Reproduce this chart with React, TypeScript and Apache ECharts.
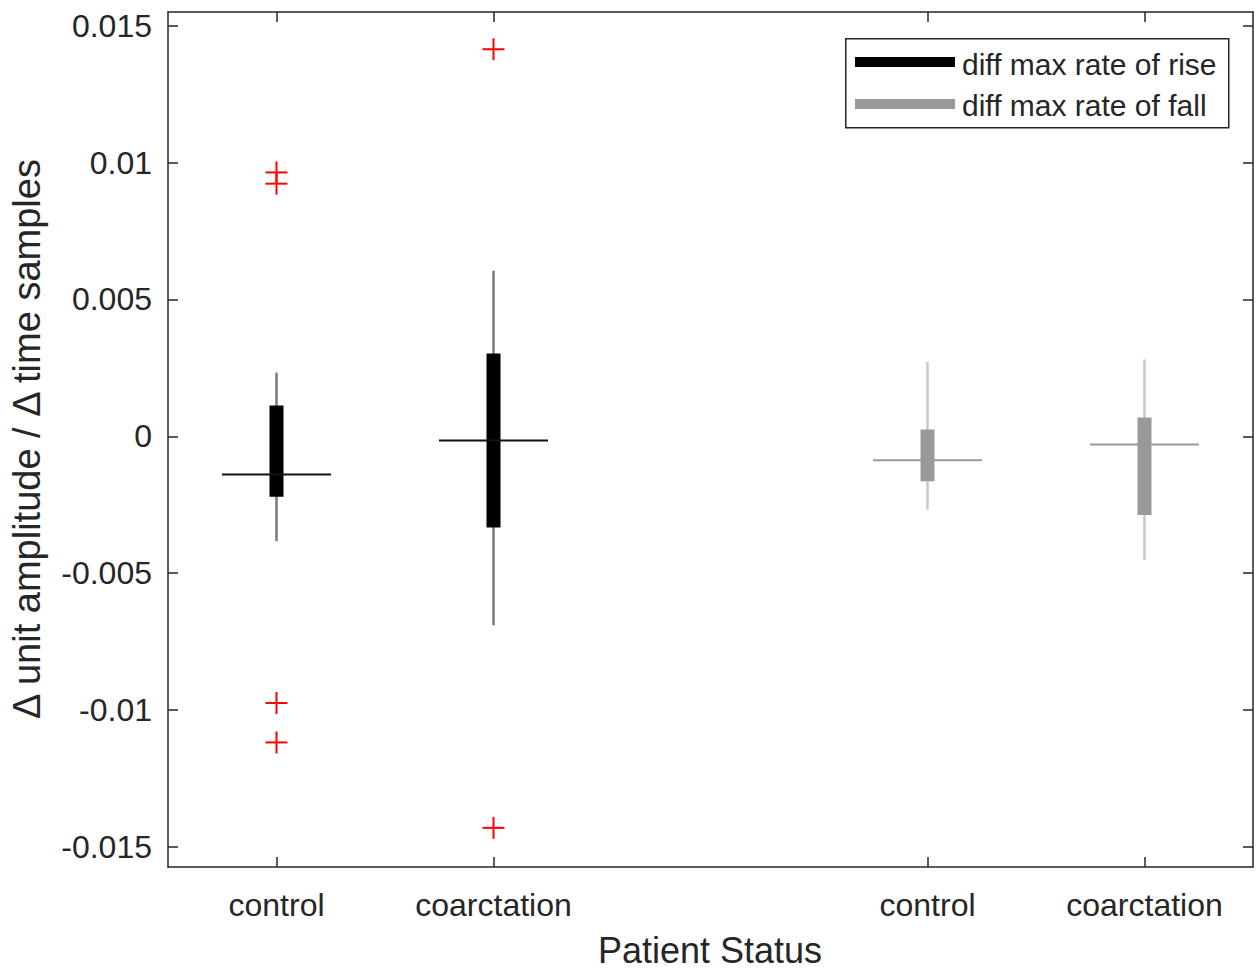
import React, { useEffect, useRef } from 'react';
import * as echarts from 'echarts';

// ---- data ----
const categories = ['control', 'coarctation', 'control', 'coarctation'];
const positions = [0.5, 1.5, 3.5, 4.5];
const groupOfBox = [0, 0, 1, 1];
const whiskerLow = [-0.00383, -0.0069, -0.00267, -0.00452];
const q1 = [-0.00221, -0.00333, -0.00164, -0.00287];
const median = [-0.00139, -0.00015, -0.00087, -0.0003];
const q3 = [0.00113, 0.00303, 0.00025, 0.00069];
const whiskerHigh = [0.00233, 0.00605, 0.00272, 0.00281];
const outlierPos = [0.5, 0.5, 0.5, 0.5, 1.5, 1.5];
const outlierValues = [0.00964, 0.00923, -0.00974, -0.01118, 0.01414, -0.0143];
const yTicks = [-0.015, -0.01, -0.005, 0, 0.005, 0.01, 0.015];
const legendLabels = ['diff max rate of rise', 'diff max rate of fall'];
const xTitle = 'Patient Status';
const yTitle = '\u0394 unit amplitude / \u0394 time samples';

const FONT = '"Liberation Sans", Arial, Helvetica, sans-serif';
const TXT = '#262626';
const AX = '#262626';
const boxColors = ['#000000', '#999999'];
const whiskerColors = ['#7a7a7a', '#c8c8c8'];
const medianColors = ['#111111', '#9a9a9a'];

export default function App() {
  const ref = useRef<HTMLDivElement>(null);
  useEffect(() => {
    if (!ref.current) return;
    const chart = echarts.init(ref.current, null, { renderer: 'svg' });

    const boxData = (g: number) =>
      positions
        .map((p, i) => ({ i, row: [p, whiskerLow[i], q1[i], median[i], q3[i], whiskerHigh[i]] }))
        .filter((d) => groupOfBox[d.i] === g)
        .map((d) => d.row);

    const boxRender = (g: number) => (params: any, api: any) => {
      const x = api.value(0);
      const lo = api.coord([x, api.value(1)]);
      const b1 = api.coord([x, api.value(2)]);
      const md = api.coord([x, api.value(3)]);
      const b3 = api.coord([x, api.value(4)]);
      const hi = api.coord([x, api.value(5)]);
      return {
        type: 'group',
        children: [
          {
            type: 'line',
            shape: { x1: lo[0], y1: lo[1], x2: hi[0], y2: hi[1] },
            style: { stroke: whiskerColors[g], lineWidth: 2.5 },
          },
          {
            type: 'rect',
            shape: { x: b3[0] - 7, y: b3[1], width: 14, height: b1[1] - b3[1] },
            style: { fill: boxColors[g] },
          },
          {
            type: 'line',
            shape: { x1: md[0] - 54.5, y1: md[1], x2: md[0] + 54.5, y2: md[1] },
            style: { stroke: medianColors[g], lineWidth: 2 },
          },
        ],
      };
    };

    const fmtY = (v: number) => {
      const s = parseFloat(v.toFixed(4)).toString();
      return s === '-0' ? '0' : s;
    };

    const option: any = {
      animation: false,
      backgroundColor: '#ffffff',
      grid: { left: 168, right: 4, top: 12, bottom: 106, containLabel: false },
      xAxis: [
        {
          type: 'value',
          min: 0,
          max: 5,
          position: 'bottom',
          axisLine: { show: true, onZero: false, lineStyle: { color: AX, width: 1.5 } },
          axisTick: { show: true, inside: true, length: 10, customValues: positions, lineStyle: { color: AX, width: 1.5 } },
          axisLabel: {
            show: true,
            customValues: positions,
            margin: 22,
            color: TXT,
            fontFamily: FONT,
            fontSize: 32,
            formatter: (v: number) => {
              const i = positions.findIndex((p) => Math.abs(p - v) < 1e-6);
              return i >= 0 ? categories[i] : '';
            },
          },
          splitLine: { show: false },
        },
        {
          type: 'value',
          min: 0,
          max: 5,
          position: 'top',
          axisLine: { show: true, onZero: false, lineStyle: { color: AX, width: 1.5 } },
          axisTick: { show: true, inside: true, length: 10, customValues: positions, lineStyle: { color: AX, width: 1.5 } },
          axisLabel: { show: false },
          splitLine: { show: false },
        },
      ],
      yAxis: [
        {
          type: 'value',
          min: -0.01573,
          max: 0.0155,
          position: 'left',
          axisLine: { show: true, onZero: false, lineStyle: { color: AX, width: 1.5 } },
          axisTick: { show: true, inside: true, length: 10, customValues: yTicks, lineStyle: { color: AX, width: 1.5 } },
          axisLabel: {
            show: true,
            customValues: yTicks,
            margin: 16,
            color: TXT,
            fontFamily: FONT,
            fontSize: 32,
            formatter: fmtY,
          },
          splitLine: { show: false },
        },
        {
          type: 'value',
          min: -0.01573,
          max: 0.0155,
          position: 'right',
          axisLine: { show: true, onZero: false, lineStyle: { color: AX, width: 1.5 } },
          axisTick: { show: true, inside: true, length: 10, customValues: yTicks, lineStyle: { color: AX, width: 1.5 } },
          axisLabel: { show: false },
          splitLine: { show: false },
        },
      ],
      series: [
        {
          name: legendLabels[0],
          type: 'custom',
          xAxisIndex: 0,
          yAxisIndex: 0,
          data: boxData(0),
          renderItem: boxRender(0),
          silent: true,
        },
        {
          name: legendLabels[1],
          type: 'custom',
          xAxisIndex: 0,
          yAxisIndex: 0,
          data: boxData(1),
          renderItem: boxRender(1),
          silent: true,
        },
        {
          name: 'outliers',
          type: 'custom',
          xAxisIndex: 0,
          yAxisIndex: 0,
          data: outlierPos.map((p, i) => [p, outlierValues[i]]),
          renderItem: (params: any, api: any) => {
            const c = api.coord([api.value(0), api.value(1)]);
            const h = 11;
            return {
              type: 'group',
              children: [
                { type: 'line', shape: { x1: c[0] - h, y1: c[1], x2: c[0] + h, y2: c[1] }, style: { stroke: '#ff0000', lineWidth: 2 } },
                { type: 'line', shape: { x1: c[0], y1: c[1] - h, x2: c[0], y2: c[1] + h }, style: { stroke: '#ff0000', lineWidth: 2 } },
              ],
            };
          },
          silent: true,
        },
      ],
      graphic: [
        {
          type: 'rect',
          left: 845,
          top: 38,
          shape: { width: 383, height: 89 },
          style: { fill: '#ffffff', stroke: '#262626', lineWidth: 1.5 },
          z: 100,
        },
        {
          type: 'line',
          shape: { x1: 855, y1: 62, x2: 955, y2: 62 },
          style: { stroke: boxColors[0], lineWidth: 10 },
          z: 101,
        },
        {
          type: 'line',
          shape: { x1: 855, y1: 104, x2: 955, y2: 104 },
          style: { stroke: boxColors[1], lineWidth: 10 },
          z: 101,
        },
        {
          type: 'text',
          x: 962,
          y: 64,
          style: { text: legendLabels[0], fill: TXT, font: `30px ${FONT}`, textVerticalAlign: 'middle', textAlign: 'left' },
          z: 101,
        },
        {
          type: 'text',
          x: 962,
          y: 105,
          style: { text: legendLabels[1], fill: TXT, font: `30px ${FONT}`, textVerticalAlign: 'middle', textAlign: 'left' },
          z: 101,
        },
        {
          type: 'text',
          x: 710,
          y: 950,
          style: { text: xTitle, fill: TXT, font: `36px ${FONT}`, textVerticalAlign: 'middle', textAlign: 'center' },
        },
        {
          type: 'text',
          x: 27,
          y: 439,
          rotation: Math.PI / 2,
          style: { text: yTitle, fill: TXT, font: `38px ${FONT}`, textVerticalAlign: 'middle', textAlign: 'center' },
        },
      ],
    };
    chart.setOption(option);
    return () => chart.dispose();
  }, []);
  return (
    <div
      ref={ref}
      style={{ position: 'absolute', left: 0, top: 0, width: 1257, height: 973, background: '#fff' }}
    />
  );
}
